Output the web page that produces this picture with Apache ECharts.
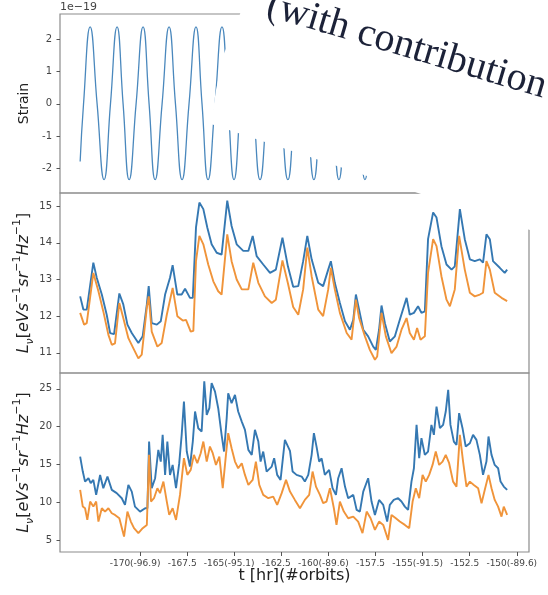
<!DOCTYPE html>
<html>
<head>
<meta charset="utf-8">
<script src="https://cdn.jsdelivr.net/npm/echarts@6.0.0/dist/echarts.min.js"></script>
<style>
html, body { margin: 0; padding: 0; background: #fff; }
#chart { width: 548px; height: 595px; }
</style>
</head>
<body>
<div id="chart"></div>
<script>
// x axis ticks (t in hr, with orbit numbers in brackets)
var xTickVals = [-170, -167.5, -165, -162.5, -160, -157.5, -155, -152.5, -150];
var xTickLabels = ['-170(-96.9)', '-167.5', '-165(-95.1)', '-162.5', '-160(-89.6)', '-157.5', '-155(-91.5)', '-152.5', '-150(-89.6)'];

var strainTicks = [-2, -1, 0, 1, 2];
var midTicks = [11, 12, 13, 14, 15];
var lowTicks = [5, 10, 15, 20, 25];

// strain (units of 1e-19), read at peaks / crossings / troughs
var strainHr = [-173.18, -173.00, -172.65, -172.28, -171.91, -171.57, -171.22, -170.90, -170.58, -170.21,
  -169.84, -169.52, -169.20, -168.83, -168.46, -168.12, -167.77, -167.40, -167.03, -166.71,
  -166.39, -166.02, -165.65, -165.33, -165.01, -164.67, -164.32, -163.98, -163.63, -163.26,
  -162.89, -162.52, -162.15, -161.80, -161.46, -161.12, -160.77, -160.43, -160.10, -159.77,
  -159.44, -159.10, -158.75, -158.40, -158.06, -157.72, -157.37, -157.02, -156.68, -156.34];
var strainVal = [-1.78,
  0, 2.37, 0, -2.34, 0, 2.37, 0, -2.34, 0, 2.37, 0, -2.34,
  0, 2.37, 0, -2.34, 0, 2.37, 0, -2.34, 0, 2.37, 0, -2.34,
  0, 2.37, 0, -2.34, 0, 2.37, 0, -2.34, 0, 2.37, 0, -2.34,
  0, 2.37, 0, -2.34, 0, 2.37, 0, -2.34, 0, 2.37, 0, -2.34,
  0];

// middle panel
var midBlueHr = [-173.18, -173.01, -172.83, -172.48, -172.30, -172.03, -171.77, -171.59, -171.38, -171.10,
  -170.89, -170.67, -170.44, -170.09, -169.86, -169.64, -169.54, -169.38, -169.11, -168.90,
  -168.67, -168.41, -168.27, -168.02, -167.79, -167.61, -167.35, -167.20, -167.03, -166.85,
  -166.64, -166.43, -166.20, -165.93, -165.67, -165.37, -165.14, -164.87, -164.52, -164.25,
  -164.02, -163.81, -163.46, -163.10, -162.79, -162.44, -162.15, -161.87, -161.60, -161.34,
  -161.12, -160.89, -160.54, -160.28, -160.01, -159.87, -159.66, -159.39, -159.12, -158.86,
  -158.68, -158.54, -158.37, -158.15, -157.89, -157.62, -157.48, -157.31, -157.18, -157.00,
  -156.74, -156.47, -156.21, -155.85, -155.68, -155.46, -155.24, -155.06, -154.88, -154.71,
  -154.44, -154.26, -154.00, -153.73, -153.46, -153.29, -153.02, -152.76, -152.49, -152.23,
  -151.96, -151.79, -151.61, -151.43, -151.26, -150.90, -150.64, -150.51];
var midBlueVal = [12.54, 12.18, 12.18, 13.46, 13.05, 12.59, 12.04, 11.54, 11.51, 12.62,
  12.32, 11.77, 11.54, 11.27, 11.45, 12.32, 12.82, 11.81, 11.77, 11.86,
  12.59, 13.05, 13.39, 12.59, 12.59, 12.75, 12.50, 12.50, 14.42, 15.10,
  14.92, 14.42, 13.96, 13.73, 13.68, 15.15, 14.46, 13.96, 13.78, 13.78,
  14.19, 13.64, 13.41, 13.18, 13.27, 14.14, 13.36, 12.80, 12.82, 13.50,
  14.19, 13.55, 12.91, 12.82, 13.27, 13.50, 12.91, 12.36, 11.86, 11.63,
  11.90, 12.59, 12.18, 11.63, 11.45, 11.17, 11.08, 11.63, 12.29, 11.81,
  11.31, 11.45, 11.90, 12.50, 12.04, 12.09, 12.27, 12.09, 12.13, 14.10,
  14.83, 14.69, 13.91, 13.41, 13.27, 13.36, 14.92, 14.10, 13.55, 13.50,
  13.55, 13.46, 14.23, 14.10, 13.50, 13.32, 13.18, 13.27];

var midOrangeHr = [-173.18, -172.97, -172.83, -172.48, -172.21, -171.95, -171.68, -171.50, -171.33, -171.10,
  -170.89, -170.62, -170.36, -170.09, -169.91, -169.64, -169.54, -169.38, -169.08, -168.85,
  -168.58, -168.27, -168.02, -167.73, -167.56, -167.31, -167.17, -167.03, -166.85, -166.64,
  -166.38, -166.11, -165.85, -165.67, -165.37, -165.14, -164.87, -164.60, -164.25, -163.99,
  -163.72, -163.37, -163.01, -162.79, -162.44, -162.15, -161.87, -161.60, -161.34, -161.12,
  -160.89, -160.54, -160.28, -160.01, -159.87, -159.66, -159.39, -159.03, -158.77, -158.54,
  -158.37, -158.06, -157.80, -157.53, -157.41, -157.27, -157.18, -156.95, -156.65, -156.38,
  -156.12, -155.85, -155.68, -155.46, -155.29, -155.11, -154.88, -154.71, -154.44, -154.26,
  -154.00, -153.73, -153.55, -153.29, -153.06, -152.76, -152.49, -152.23, -151.96, -151.79,
  -151.61, -151.43, -151.17, -150.81, -150.51];
var midOrangeVal = [12.09, 11.77, 11.81, 13.18, 12.68, 12.13, 11.49, 11.22, 11.26, 12.36,
  11.95, 11.40, 11.13, 10.85, 10.95, 12.23, 12.54, 11.58, 11.17, 11.27,
  12.04, 12.77, 12.00, 11.88, 11.90, 11.58, 11.60, 13.50, 14.19, 13.96,
  13.41, 12.95, 12.68, 12.59, 14.23, 13.50, 13.00, 12.73, 12.73, 13.46,
  12.91, 12.54, 12.36, 12.45, 13.52, 12.90, 12.25, 12.04, 12.73, 13.87,
  13.09, 12.18, 12.00, 12.73, 13.32, 12.73, 12.09, 11.54, 11.36, 12.45,
  11.95, 11.45, 11.08, 10.81, 10.90, 11.63, 12.09, 11.45, 10.99, 11.17,
  11.63, 11.95, 11.54, 11.36, 11.68, 11.36, 11.45, 13.18, 14.10, 13.91,
  13.09, 12.45, 12.27, 12.73, 14.19, 13.27, 12.64, 12.54, 12.59, 12.64,
  13.50, 13.27, 12.64, 12.50, 12.41];

// bottom panel
var lowBlueHr = [-173.18, -173.04, -172.92, -172.74, -172.62, -172.48, -172.33, -172.12, -171.95, -171.73,
  -171.50, -171.24, -170.97, -170.80, -170.62, -170.44, -170.27, -170.00, -169.73, -169.61,
  -169.52, -169.38, -169.20, -169.03, -168.90, -168.80, -168.67, -168.55, -168.41, -168.27,
  -168.09, -167.92, -167.79, -167.67, -167.52, -167.35, -167.20, -167.08, -166.91, -166.73,
  -166.59, -166.46, -166.32, -166.20, -166.02, -165.85, -165.67, -165.54, -165.40, -165.32,
  -165.14, -164.96, -164.79, -164.60, -164.43, -164.25, -164.07, -163.90, -163.72, -163.60,
  -163.46, -163.28, -163.01, -162.88, -162.72, -162.54, -162.31, -162.04, -161.90, -161.69,
  -161.42, -161.25, -161.07, -160.89, -160.77, -160.63, -160.49, -160.36, -160.19, -159.96,
  -159.78, -159.60, -159.48, -159.30, -159.12, -158.95, -158.68, -158.50, -158.33, -158.15,
  -157.89, -157.71, -157.53, -157.31, -157.09, -156.88, -156.74, -156.53, -156.30, -156.12,
  -155.94, -155.77, -155.59, -155.46, -155.32, -155.18, -155.06, -154.88, -154.71, -154.53,
  -154.40, -154.26, -154.08, -153.91, -153.77, -153.64, -153.52, -153.34, -153.20, -153.06,
  -152.88, -152.71, -152.49, -152.32, -152.14, -151.96, -151.79, -151.61, -151.50, -151.34,
  -151.17, -150.99, -150.86, -150.69, -150.51];
var lowBlueVal = [16.03, 14.05, 12.72, 13.17, 12.51, 12.95, 10.96, 13.60, 11.85, 13.39,
  11.62, 11.19, 10.52, 9.64, 12.28, 11.40, 9.41, 8.75, 9.19, 9.19,
  18.02, 11.85, 13.17, 16.92, 15.37, 18.91, 13.61, 18.02, 13.61, 14.93,
  11.85, 15.16, 18.91, 23.32, 16.70, 14.71, 18.02, 22.00, 19.79, 19.35,
  26.00, 21.56, 22.44, 25.75, 24.64, 22.44, 18.91, 16.70, 21.12, 24.42,
  23.10, 24.20, 22.00, 20.67, 19.57, 16.92, 16.26, 19.57, 18.02, 15.37,
  16.70, 14.05, 14.71, 15.82, 13.61, 12.95, 18.25, 16.80, 14.05, 13.61,
  13.39, 12.72, 13.61, 16.26, 19.13, 17.36, 15.37, 15.80, 13.61, 14.27,
  11.85, 10.96, 13.17, 14.49, 12.06, 10.52, 10.96, 8.97, 8.75, 11.40,
  13.17, 10.08, 8.31, 10.30, 9.64, 7.43, 9.64, 10.30, 10.52, 10.08,
  9.41, 8.97, 12.72, 14.49, 20.23, 15.82, 18.47, 16.26, 16.70, 20.23,
  18.91, 22.66, 19.79, 20.23, 22.00, 24.87, 20.23, 18.02, 17.58, 21.78,
  19.79, 17.36, 17.80, 18.91, 18.25, 16.26, 13.61, 15.37, 18.69, 16.26,
  14.93, 14.49, 12.72, 12.06, 11.62];

var lowOrangeHr = [-173.18, -173.04, -172.92, -172.80, -172.65, -172.48, -172.33, -172.21, -172.03, -171.86,
  -171.68, -171.50, -171.33, -171.10, -170.85, -170.67, -170.49, -170.32, -170.09, -169.86,
  -169.64, -169.52, -169.42, -169.26, -169.08, -168.94, -168.76, -168.58, -168.45, -168.27,
  -168.09, -167.88, -167.67, -167.49, -167.31, -167.14, -166.96, -166.78, -166.64, -166.46,
  -166.29, -166.14, -165.97, -165.79, -165.61, -165.44, -165.32, -165.14, -164.96, -164.79,
  -164.60, -164.43, -164.25, -164.02, -163.85, -163.67, -163.46, -163.19, -162.93, -162.72,
  -162.48, -162.25, -162.04, -161.78, -161.51, -161.25, -161.02, -160.84, -160.66, -160.45,
  -160.28, -160.10, -159.92, -159.71, -159.57, -159.39, -159.18, -158.95, -158.68, -158.42,
  -158.19, -157.97, -157.76, -157.53, -157.31, -157.09, -156.83, -156.65, -156.42, -156.21,
  -155.94, -155.71, -155.53, -155.36, -155.18, -155.00, -154.83, -154.65, -154.47, -154.30,
  -154.12, -153.94, -153.77, -153.59, -153.38, -153.20, -153.02, -152.85, -152.67, -152.49,
  -152.28, -152.05, -151.87, -151.70, -151.50, -151.34, -151.17, -150.99, -150.81, -150.69,
  -150.51];
var lowOrangeVal = [11.62, 9.41, 9.19, 7.65, 10.08, 9.41, 10.08, 7.43, 9.19, 8.75,
  9.19, 8.53, 8.31, 7.87, 5.44, 8.75, 7.43, 6.55, 5.89, 6.55,
  6.99, 16.26, 10.08, 10.52, 11.85, 11.19, 12.72, 10.08, 8.31, 9.19,
  7.65, 10.96, 15.82, 13.61, 14.27, 16.26, 15.16, 16.48, 18.02, 15.37,
  17.36, 16.48, 14.93, 16.03, 11.85, 16.26, 19.13, 17.14, 15.37, 14.49,
  15.16, 13.61, 12.28, 12.95, 15.37, 12.28, 10.96, 10.52, 10.74, 9.64,
  11.19, 12.95, 11.40, 10.30, 9.19, 10.30, 10.96, 14.05, 12.06, 10.96,
  9.86, 10.08, 11.85, 9.19, 6.99, 10.08, 8.75, 7.87, 8.09, 7.43,
  5.89, 8.75, 7.87, 6.33, 7.43, 6.99, 5.00, 8.31, 7.87, 7.43,
  6.99, 6.55, 10.08, 11.85, 10.52, 13.61, 12.72, 13.61, 14.93, 16.70,
  14.93, 15.37, 16.26, 15.16, 12.72, 12.06, 18.91, 15.37, 12.06, 12.72,
  12.28, 11.85, 9.86, 11.62, 13.61, 11.85, 10.30, 9.41, 8.09, 9.41,
  8.31];

function pairs(xs, ys) {
  return xs.map(function (x, i) { return [x, ys[i]]; });
}

var blue = '#3578b2';
var orange = '#f0943a';
var frame = '#8c8c8c';
var font = 'DejaVu Sans';

var lumName = '{i|L}{sub|ν}{n|[}{i|eVs}{sup|−1}{i|sr}{sup|−1}{i|Hz}{sup|−1}{n|]}';
var lumRich = {
  i: { fontFamily: font, fontStyle: 'italic', fontSize: 16, lineHeight: 24, color: '#222' },
  n: { fontFamily: font, fontSize: 16, lineHeight: 24, color: '#222' },
  sub: { fontFamily: font, fontStyle: 'italic', fontSize: 11, lineHeight: 24, verticalAlign: 'bottom', color: '#222' },
  sup: { fontFamily: font, fontSize: 11, lineHeight: 24, verticalAlign: 'top', color: '#222' }
};

function xAx(idx, showLabels) {
  return {
    type: 'value', gridIndex: idx, min: -174.25, max: -149.35,
    axisLine: { show: false },
    splitLine: { show: false },
    axisTick: { show: showLabels, customValues: xTickVals, length: 4, lineStyle: { color: '#555' } },
    axisLabel: {
      show: showLabels, customValues: xTickVals, margin: 7, fontSize: 9, fontFamily: font, color: '#444',
      padding: [0, 10, 0, 0],
      formatter: function (v) {
        var k = xTickVals.indexOf(v);
        return k < 0 ? '' : xTickLabels[k];
      }
    },
    name: showLabels ? 't [hr](#orbits)' : '',
    nameLocation: 'middle', nameGap: 16, nameMoveOverlap: false,
    nameTextStyle: { fontFamily: font, fontSize: 16, color: '#222' }
  };
}

function yAx(idx, min, max, ticks, name, rich, gap) {
  return {
    type: 'value', gridIndex: idx, min: min, max: max,
    axisLine: { show: false },
    splitLine: { show: false },
    axisTick: { show: true, customValues: ticks, length: 3.5, lineStyle: { color: '#555' } },
    axisLabel: { customValues: ticks, margin: 8, fontSize: 10, fontFamily: font, color: '#444' },
    name: name, nameLocation: 'middle', nameRotate: 90, nameGap: gap, nameMoveOverlap: false,
    nameTextStyle: rich ? { rich: rich } : { fontFamily: font, fontSize: 14, color: '#222' }
  };
}

var chart = echarts.init(document.getElementById('chart'));

var gridBase = { show: true, left: 60, right: 19, borderColor: frame, borderWidth: 1.2, containLabel: false, outerBoundsMode: 'none' };

var option = {
  animation: false,
  backgroundColor: '#fff',
  grid: [
    Object.assign({ top: 14, height: 179 }, gridBase),
    Object.assign({ top: 193, height: 180 }, gridBase),
    Object.assign({ top: 373, height: 179 }, gridBase)
  ],
  xAxis: [xAx(0, false), xAx(1, false), xAx(2, true)],
  yAxis: [
    yAx(0, -2.75, 2.77, strainTicks, 'Strain', null, 29),
    yAx(1, 10.45, 15.36, midTicks, lumName, lumRich, 24),
    yAx(2, 3.4, 27.1, lowTicks, lumName, lumRich, 24)
  ],
  series: [
    { type: 'line', xAxisIndex: 0, yAxisIndex: 0, data: pairs(strainHr, strainVal), smooth: 0.5,
      showSymbol: false, lineStyle: { color: '#4a88bd', width: 1.3 } },
    { type: 'line', xAxisIndex: 1, yAxisIndex: 1, data: pairs(midBlueHr, midBlueVal),
      showSymbol: false, lineStyle: { color: blue, width: 1.9 } },
    { type: 'line', xAxisIndex: 1, yAxisIndex: 1, data: pairs(midOrangeHr, midOrangeVal),
      showSymbol: false, lineStyle: { color: orange, width: 1.9 } },
    { type: 'line', xAxisIndex: 2, yAxisIndex: 2, data: pairs(lowBlueHr, lowBlueVal),
      showSymbol: false, lineStyle: { color: blue, width: 1.9 } },
    { type: 'line', xAxisIndex: 2, yAxisIndex: 2, data: pairs(lowOrangeHr, lowOrangeVal),
      showSymbol: false, lineStyle: { color: orange, width: 1.9 } }
  ],
  graphic: [
    { type: 'text', left: 60, top: 2, z: 50,
      style: { text: '1e\u221219', font: '11px "DejaVu Sans"', fill: '#444' } },
    // the white paper sheet lying over the upper right corner
    { type: 'polygon', z: 100,
      shape: { points: [[244, 0], [240, 14], [223, 56], [216, 90], [211, 124], [418, 193], [548, 236], [548, 0]] },
      style: { fill: '#ffffff' } },
    { type: 'text', x: 262, y: 24, rotation: -0.29, z: 101,
      style: { text: '(with contribution', font: '40px "Liberation Serif"', fill: '#1c2238',
        textAlign: 'left', textVerticalAlign: 'bottom' } }
  ]
};

chart.setOption(option);
</script>
</body>
</html>
